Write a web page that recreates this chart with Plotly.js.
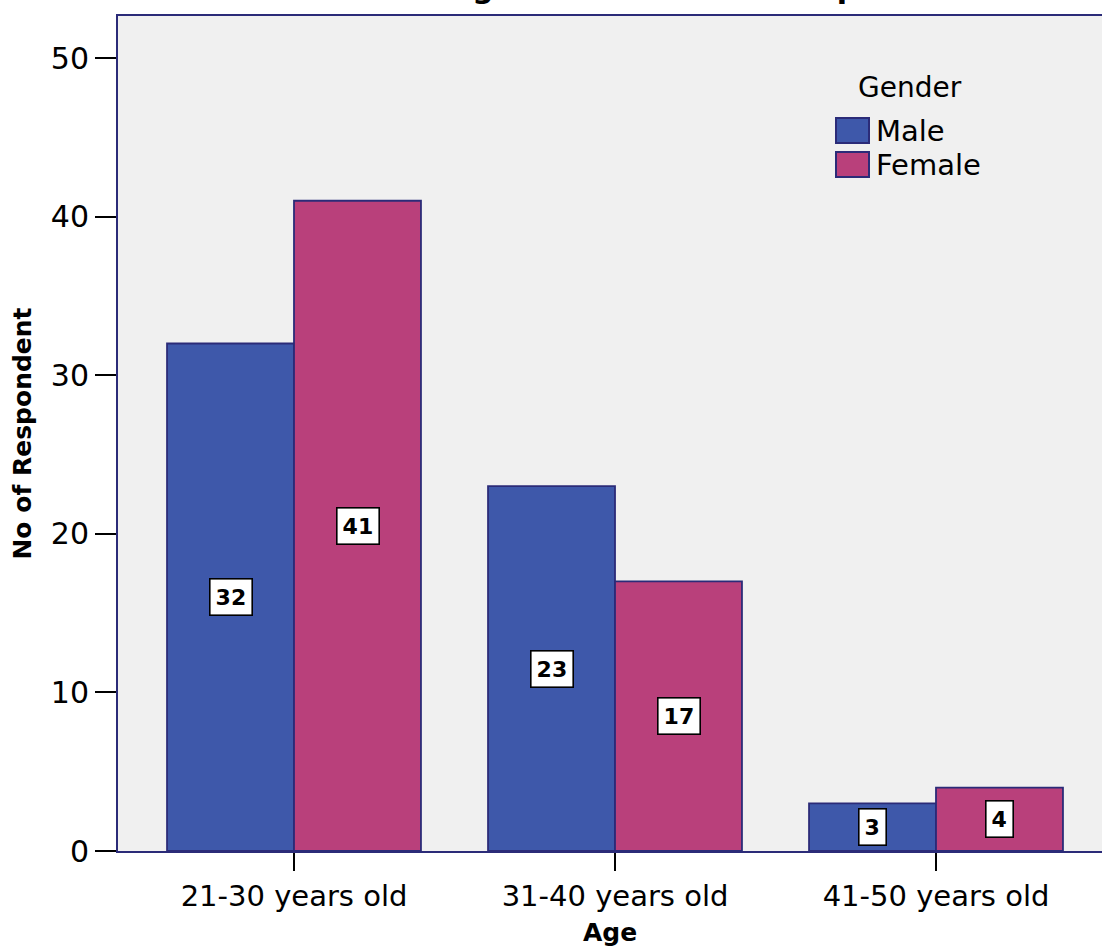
<!DOCTYPE html>
<html>
<head>
<meta charset="utf-8">
<script src="https://cdn.plot.ly/plotly-3.0.1.min.js"></script>
<style>
  html, body { margin: 0; padding: 0; background: #ffffff; }
  #chart { width: 1102px; height: 951px; }
</style>
</head>
<body>
<div id="chart"></div>
<script>
// Respondents by age band, split by gender
const ageGroups = ["21-30 years old", "31-40 years old", "41-50 years old"];
const seriesNames = ["Male", "Female"];
const maleCounts = [32, 23, 3];
const femaleCounts = [41, 17, 4];
const legendTitle = "Gender";
const chartTitle = "Age and Gender of Respondent";
const yTicks = [0, 10, 20, 30, 40, 50];

const colors = ["#3e58aa", "#b9407b"];
const outline = "#2b2b78";
const FONT = "DejaVu Sans, Arial, sans-serif";

const W = 1102, H = 951;
const M = { l: 118, r: 0, t: 16, b: 100 };
const plotW = W - M.l - M.r;
const plotH = H - M.t - M.b;
const px2x = p => (p - M.l) / plotW;
const px2y = p => (H - M.b - p) / plotH;

const seriesValues = [maleCounts, femaleCounts];

const traces = seriesValues.map((vals, i) => ({
  type: "bar",
  name: seriesNames[i],
  x: ageGroups,
  y: vals,
  marker: { color: colors[i], line: { color: outline, width: 1.8 } },
  hoverinfo: "x+y+name"
}));

// value boxes at half height of every bar
const barShift = 63.5;
const annotations = [];
seriesValues.forEach((vals, i) => {
  vals.forEach((v, k) => {
    annotations.push({
      x: ageGroups[k], y: v / 2, xref: "x", yref: "y",
      xshift: i === 0 ? -barShift : barShift,
      text: String(v), showarrow: false,
      font: { family: FONT, size: 22, color: "#000", weight: "bold" },
      bgcolor: "#ffffff", bordercolor: "#000000", borderwidth: 1.6, borderpad: 5
    });
  });
});

// legend block
annotations.push({
  xref: "paper", yref: "paper", x: px2x(856), y: px2y(88),
  xanchor: "left", yanchor: "middle", showarrow: false,
  text: legendTitle, font: { family: FONT, size: 28, color: "#000" }
});
const shapes = [];
seriesNames.forEach((name, i) => {
  const top = 118 + i * 34;
  shapes.push({
    type: "rect", xref: "paper", yref: "paper",
    x0: px2x(836), x1: px2x(869), y0: px2y(top + 25), y1: px2y(top),
    fillcolor: colors[i], line: { color: outline, width: 2 }
  });
  annotations.push({
    xref: "paper", yref: "paper", x: px2x(874), y: px2y(top + 13),
    xanchor: "left", yanchor: "middle", showarrow: false,
    text: name, font: { family: FONT, size: 29, color: "#000" }
  });
});

// chart title sits above the frame, only its lowest strokes reach the page
annotations.push({
  xref: "paper", yref: "paper", x: px2x(447), y: px2y(7),
  xanchor: "left", yanchor: "bottom", showarrow: false,
  text: chartTitle, font: { family: FONT, size: 30, color: "#000", weight: "bold" }
});

const layout = {
  width: W, height: H,
  margin: M,
  paper_bgcolor: "#ffffff",
  plot_bgcolor: "#f0f0f0",
  showlegend: false,
  barmode: "group",
  bargap: 0.209,
  bargroupgap: 0,
  font: { family: FONT, color: "#000" },
  xaxis: {
    type: "category",
    range: [-(294 - M.l) / 321, (W - 294) / 321],
    showline: true, linecolor: outline, linewidth: 2, mirror: true,
    ticks: "outside", ticklen: 18, tickwidth: 2, tickcolor: "#000",
    tickfont: { family: FONT, size: 29, color: "#000" },
    showgrid: false, zeroline: false,
    title: { text: "Age", font: { family: FONT, size: 25, color: "#000", weight: "bold" }, standoff: 12 },
    automargin: false
  },
  yaxis: {
    range: [0, (H - M.b - M.t) / 15.86],
    tickvals: yTicks,
    showline: true, linecolor: outline, linewidth: 2,
    ticks: "outside", ticklen: 21, tickwidth: 2, tickcolor: "#000",
    tickfont: { family: FONT, size: 30, color: "#000" },
    showgrid: false, zeroline: false,
    title: { text: "No of Respondent", font: { family: FONT, size: 25, color: "#000", weight: "bold" }, standoff: 12 },
    automargin: false
  },
  annotations: annotations,
  shapes: shapes
};

Plotly.newPlot("chart", traces, layout, { displayModeBar: false, staticPlot: true });
</script>
</body>
</html>
